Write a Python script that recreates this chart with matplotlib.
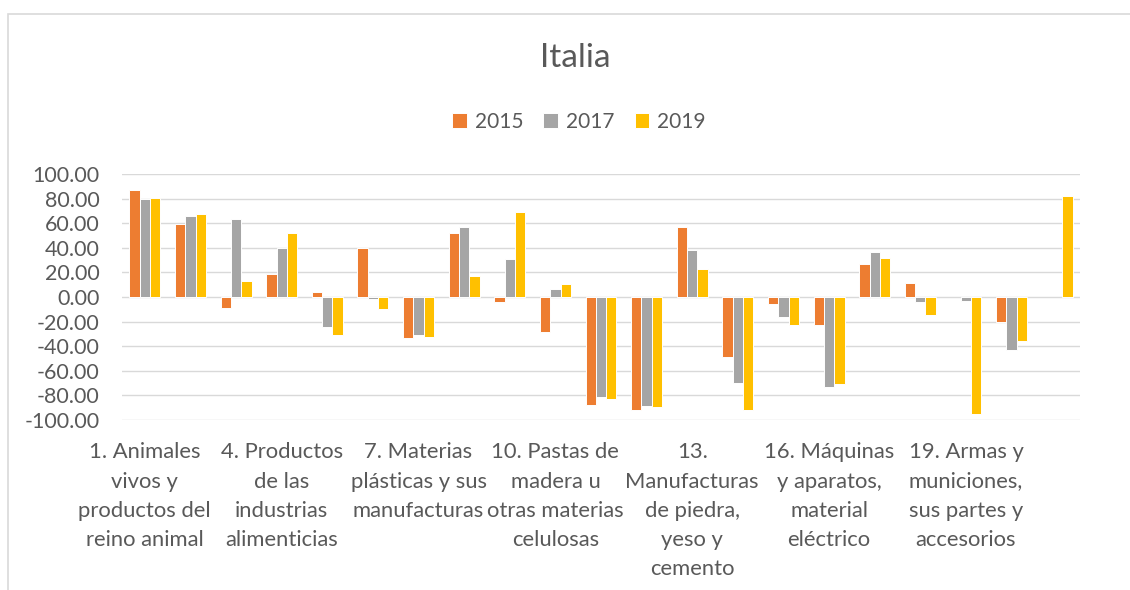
import numpy as np
import matplotlib
matplotlib.use('Agg')
import matplotlib.pyplot as plt
from matplotlib.patches import Rectangle

plt.rcParams['font.family'] = ['Lato', 'DejaVu Sans']

# 21 secciones, etiqueta visible cada 3
n_sections = 21
tick_labels = [
    '1. Animales\nvivos y\nproductos del\nreino animal',
    '4. Productos\nde las\nindustrias\nalimenticias',
    '7. Materias\nplásticas y sus\nmanufacturas',
    '10. Pastas de\nmadera u\notras materias\ncelulosas',
    '13.\nManufacturas\nde piedra,\nyeso y\ncemento',
    '16. Máquinas\ny aparatos,\nmaterial\neléctrico',
    '19. Armas y\nmuniciones,\nsus partes y\naccesorios',
]
years = ['2015', '2017', '2019']
v2015 = [86.7, 59.7, -8.6, 18.7, 3.8, 39.6, -33.0, 51.8, -4.0, -28.2, -87.8,
         -91.6, 57.2, -48.5, -5.4, -22.5, 27.1, 11.1, np.nan, -20.6, np.nan]
v2017 = [79.7, 66.2, 63.2, 39.6, -24.6, -1.9, -31.1, 56.7, 30.6, 6.5, -81.5,
         -88.3, 38.2, -69.6, -16.0, -73.4, 36.3, -4.0, -3.0, -43.3, np.nan]
v2019 = [80.8, 67.8, 13.3, 51.8, -30.6, -9.7, -32.2, 17.1, 68.9, 10.9, -82.6,
         -89.4, 22.5, -91.9, -22.5, -71.0, 31.5, -14.6, -95.0, -36.0, 82.1]
colors = ['#ED7D31', '#A5A5A5', '#FFC000']

text_color = '#595959'
grid_color = '#D9D9D9'

fig = plt.figure(figsize=(11.3, 5.9), dpi=100)
ax = fig.add_axes([122 / 1130, 1 - 420 / 590, 958 / 1130, 246 / 590])

x = np.arange(n_sections)
w = 0.226
for i, (vals, c, lab) in enumerate(zip([v2015, v2017, v2019], colors, years)):
    ax.bar(x + (i - 1) * w, vals, width=w, color=c, edgecolor='white',
           linewidth=0.7, label=lab, zorder=3)

ax.set_xlim(-0.5, n_sections - 0.5)
ax.set_ylim(-100, 100)
ax.set_yticks(np.arange(-100, 101, 20))
ax.set_yticklabels([f'{v:.2f}' for v in np.arange(-100, 101, 20)])
ax.set_xticks(x[::3])
ax.set_xticklabels(tick_labels, linespacing=1.58)
ax.tick_params(axis='both', length=0, labelcolor=text_color)
ax.tick_params(axis='y', pad=16, labelsize=15.5)
ax.tick_params(axis='x', pad=16, labelsize=15.8)
ax.yaxis.grid(True, color=grid_color, linewidth=1.0, zorder=0)
ax.set_axisbelow(True)
for s in ax.spines.values():
    s.set_visible(False)

fig.text(575 / 1130, 1 - 58 / 590, 'Italia', ha='center', va='center',
         fontsize=24, color=text_color)
fig.legend(loc='center', bbox_to_anchor=(579 / 1130, 1 - 122 / 590), ncol=3,
           frameon=False, fontsize=15, labelcolor=text_color,
           handlelength=0.7, handleheight=0.7, handletextpad=0.4,
           columnspacing=0.95)

# borde del área del gráfico (solo izquierda y arriba visibles)
fig.patches.append(Rectangle((8 / 1130, -0.1), 1.2, 1.1 - 14 / 590,
                             transform=fig.transFigure, fill=False,
                             edgecolor=grid_color, linewidth=1.2))

fig.savefig('out.png', dpi=100)
